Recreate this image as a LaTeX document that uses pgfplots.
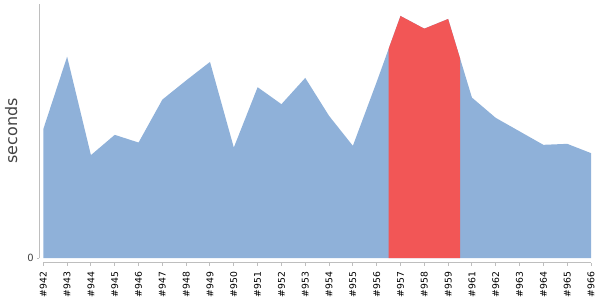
\documentclass[border=0pt]{standalone}
\usepackage{fontspec}
\setmainfont{DejaVu Sans}
\usepackage{pgfplots}
\usepackage{pgfplotstable}
\pgfplotsset{compat=1.18}
\usepgfplotslibrary{fillbetween}
\definecolor{areablue}{RGB}{143,177,217}
\definecolor{hired}{RGB}{242,86,86}
\definecolor{axgray}{RGB}{190,190,190}
\definecolor{labgray}{RGB}{68,68,68}

\pgfplotstableread{
x y
0 129.2
1 201.8
2 103.2
3 123.5
4 115.8
5 158.8
6 178.0
7 196.5
8 110.8
9 171.2
10 154.2
11 180.5
12 142.5
13 112.5
14 176.5
15 242.5
16 229.8
17 239.5
18 160.8
19 140.5
20 127.0
21 113.5
22 114.5
23 105.2
}\datatable

\begin{document}
\begin{tikzpicture}
\begin{axis}[
  at={(39.3bp,37bp)}, anchor=south west,
  scale only axis, width=551.7bp, height=259bp,
  xmin=-0.168, xmax=23, ymin=-4.8, ymax=254.5,
  clip=false,
  axis line style={draw=none},
  /pgf/number format/assume math mode=true,
  tick align=outside,
  major tick length=2.5bp,
  xtick pos=bottom, ytick pos=left,
  tick style={draw=axgray, line width=1bp},
  xtick={0,...,23},
  xticklabels={\#942,\#943,\#944,\#945,\#946,\#947,\#948,\#949,\#950,\#951,\#952,\#953,\#954,\#955,\#956,\#957,\#958,\#959,\#961,\#962,\#963,\#964,\#965,\#966},
  xticklabel shift=6bp,
  x tick label style={rotate=90, anchor=east, inner sep=0pt, font=\fontsize{9.3}{9.3}\selectfont, text=black},
  ytick={0},
  yticklabels={0},
  y tick label style={font=\fontsize{10}{10}\selectfont, text=labgray, inner sep=0pt, xshift=-3bp},
  ylabel={seconds},
  ylabel style={at={(axis description cs:-0.040,0.51)}, anchor=base, inner sep=0pt, font=\fontsize{16}{16}\selectfont, text=labgray},
]
\addplot[draw=none, name path=A] table[x=x, y=y] {\datatable};
\addplot[draw=none, name path=B] coordinates {(0,0) (23,0)};
\addplot[fill=areablue, draw=none] fill between[of=A and B];
\addplot[fill=hired, draw=none] fill between[of=A and B, soft clip={domain=14.5:17.5}];
\draw[axgray, line width=1bp] (axis cs:-0.168,0) -- (axis cs:-0.168,254.5);
\draw[axgray, line width=1bp] (axis cs:0,-4.8) -- (axis cs:23,-4.8);
\end{axis}
\pgfresetboundingbox
\path (0,0) rectangle (600bp,300bp);
\end{tikzpicture}
\end{document}
